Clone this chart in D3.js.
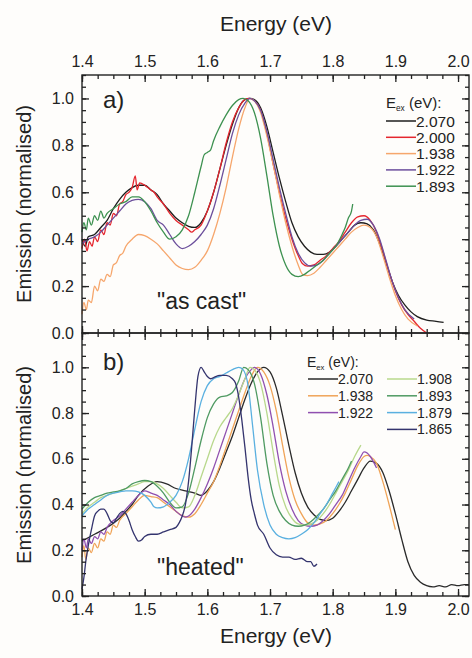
<!DOCTYPE html>
<html>
<head>
<meta charset="utf-8">
<script src="https://cdn.jsdelivr.net/npm/d3@7"></script>
<style>
body { margin: 0; background: #fefdfb; }
text { font-family: "Liberation Sans", Arial, sans-serif; fill: #222; }
</style>
</head>
<body>
<svg id="mainsvg" width="472" height="658"></svg>
<script>
// ---- data: [energy (eV), normalised emission] ----
// a) "as cast"
var cast2070 = [[1.400,0.40],[1.405,0.37],[1.41,0.41],[1.42,0.42],[1.43,0.45],[1.44,0.48],[1.45,0.53],[1.46,0.57],[1.47,0.60],[1.48,0.62],[1.49,0.63],[1.50,0.63],[1.51,0.61],[1.52,0.59],[1.53,0.55],[1.54,0.52],[1.55,0.49],[1.56,0.47],[1.57,0.455],[1.58,0.45],[1.59,0.47],[1.60,0.52],[1.61,0.60],[1.62,0.70],[1.63,0.80],[1.64,0.89],[1.65,0.96],[1.66,0.995],[1.668,1.0],[1.675,0.995],[1.685,0.96],[1.695,0.88],[1.705,0.77],[1.715,0.66],[1.725,0.56],[1.735,0.47],[1.745,0.41],[1.755,0.37],[1.765,0.345],[1.775,0.335],[1.785,0.335],[1.795,0.345],[1.805,0.37],[1.815,0.40],[1.825,0.43],[1.835,0.46],[1.845,0.47],[1.855,0.465],[1.865,0.44],[1.875,0.38],[1.885,0.30],[1.895,0.22],[1.905,0.16],[1.915,0.12],[1.925,0.09],[1.935,0.07],[1.95,0.055],[1.965,0.05],[1.977,0.045]];
var cast2000 = [[1.400,0.36],[1.404,0.40],[1.408,0.35],[1.412,0.39],[1.416,0.37],[1.42,0.41],[1.425,0.39],[1.43,0.44],[1.435,0.42],[1.44,0.47],[1.445,0.46],[1.45,0.51],[1.455,0.50],[1.46,0.55],[1.465,0.56],[1.47,0.59],[1.475,0.60],[1.48,0.62],[1.485,0.67],[1.488,0.61],[1.492,0.64],[1.50,0.63],[1.505,0.62],[1.51,0.61],[1.515,0.60],[1.52,0.58],[1.53,0.55],[1.54,0.51],[1.55,0.48],[1.56,0.46],[1.57,0.44],[1.575,0.43],[1.58,0.44],[1.59,0.46],[1.60,0.52],[1.61,0.60],[1.62,0.70],[1.63,0.81],[1.64,0.90],[1.65,0.96],[1.66,0.995],[1.667,1.0],[1.675,0.99],[1.685,0.95],[1.695,0.85],[1.705,0.72],[1.715,0.60],[1.725,0.49],[1.735,0.40],[1.745,0.33],[1.752,0.295],[1.76,0.285],[1.77,0.29],[1.78,0.31],[1.79,0.33],[1.80,0.36],[1.81,0.39],[1.82,0.43],[1.83,0.47],[1.84,0.495],[1.85,0.50],[1.86,0.48],[1.87,0.43],[1.88,0.35],[1.89,0.26],[1.90,0.18],[1.91,0.12],[1.92,0.08],[1.93,0.05],[1.94,0.02],[1.95,0.0]];
var cast1938 = [[1.400,0.08],[1.403,0.13],[1.407,0.10],[1.41,0.14],[1.415,0.13],[1.42,0.20],[1.425,0.18],[1.43,0.23],[1.435,0.22],[1.44,0.25],[1.445,0.24],[1.45,0.29],[1.455,0.30],[1.46,0.33],[1.465,0.34],[1.47,0.37],[1.48,0.40],[1.49,0.42],[1.50,0.415],[1.51,0.40],[1.52,0.38],[1.53,0.35],[1.54,0.32],[1.55,0.29],[1.56,0.275],[1.57,0.27],[1.58,0.28],[1.59,0.31],[1.60,0.35],[1.61,0.42],[1.62,0.51],[1.63,0.62],[1.64,0.75],[1.65,0.87],[1.66,0.96],[1.668,1.0],[1.675,0.99],[1.685,0.94],[1.695,0.84],[1.705,0.72],[1.715,0.59],[1.725,0.47],[1.735,0.37],[1.745,0.29],[1.752,0.25],[1.76,0.245],[1.77,0.255],[1.78,0.28],[1.79,0.31],[1.80,0.34],[1.81,0.37],[1.82,0.40],[1.83,0.43],[1.84,0.45],[1.85,0.46],[1.86,0.45],[1.87,0.41],[1.88,0.33],[1.89,0.24],[1.90,0.16],[1.91,0.10],[1.92,0.06],[1.935,0.03]];
var cast1922 = [[1.40,0.38],[1.41,0.40],[1.42,0.41],[1.43,0.43],[1.44,0.46],[1.45,0.49],[1.46,0.52],[1.47,0.55],[1.48,0.565],[1.49,0.57],[1.50,0.56],[1.51,0.53],[1.52,0.48],[1.53,0.46],[1.54,0.42],[1.55,0.38],[1.56,0.36],[1.57,0.37],[1.58,0.39],[1.59,0.42],[1.60,0.46],[1.61,0.53],[1.62,0.63],[1.63,0.74],[1.64,0.85],[1.65,0.93],[1.66,0.98],[1.668,1.0],[1.675,0.99],[1.685,0.95],[1.695,0.86],[1.705,0.74],[1.715,0.62],[1.725,0.51],[1.735,0.41],[1.745,0.34],[1.755,0.30],[1.765,0.285],[1.775,0.29],[1.785,0.31],[1.795,0.34],[1.805,0.37],[1.815,0.40],[1.825,0.43],[1.835,0.46],[1.845,0.48],[1.855,0.485],[1.865,0.46],[1.875,0.40],[1.885,0.31],[1.895,0.22],[1.905,0.15],[1.915,0.10],[1.93,0.06]];
var cast1893 = [[1.400,0.43],[1.403,0.47],[1.407,0.44],[1.41,0.49],[1.415,0.46],[1.42,0.50],[1.425,0.48],[1.43,0.52],[1.435,0.49],[1.44,0.51],[1.45,0.53],[1.46,0.55],[1.47,0.56],[1.48,0.58],[1.49,0.58],[1.50,0.56],[1.51,0.52],[1.52,0.47],[1.53,0.43],[1.54,0.40],[1.55,0.41],[1.56,0.44],[1.57,0.50],[1.58,0.60],[1.59,0.71],[1.595,0.76],[1.60,0.77],[1.605,0.78],[1.61,0.82],[1.62,0.88],[1.63,0.93],[1.64,0.97],[1.65,0.995],[1.657,1.0],[1.665,0.99],[1.675,0.94],[1.685,0.83],[1.695,0.67],[1.705,0.50],[1.715,0.37],[1.725,0.29],[1.735,0.25],[1.745,0.24],[1.755,0.25],[1.765,0.27],[1.775,0.29],[1.785,0.31],[1.795,0.34],[1.805,0.37],[1.815,0.42],[1.82,0.45],[1.825,0.49],[1.83,0.52],[1.832,0.55]];

// b) "heated"
var heat2070 = [[1.40,0.24],[1.42,0.27],[1.44,0.30],[1.46,0.34],[1.47,0.37],[1.48,0.40],[1.49,0.44],[1.505,0.48],[1.52,0.50],[1.535,0.49],[1.55,0.47],[1.565,0.46],[1.58,0.45],[1.59,0.44],[1.60,0.46],[1.61,0.50],[1.62,0.56],[1.63,0.63],[1.64,0.70],[1.65,0.78],[1.66,0.86],[1.67,0.93],[1.68,0.98],[1.69,1.0],[1.70,0.98],[1.71,0.91],[1.72,0.79],[1.73,0.66],[1.74,0.54],[1.75,0.45],[1.76,0.39],[1.77,0.355],[1.78,0.335],[1.79,0.33],[1.80,0.34],[1.81,0.37],[1.82,0.41],[1.83,0.46],[1.84,0.51],[1.85,0.56],[1.86,0.59],[1.87,0.58],[1.88,0.54],[1.89,0.46],[1.90,0.36],[1.91,0.25],[1.92,0.15],[1.93,0.09],[1.94,0.06],[1.95,0.045],[1.96,0.04],[1.97,0.045],[1.98,0.04],[1.99,0.05],[2.00,0.045],[2.01,0.05],[2.017,0.05]];
var heat1938 = [[1.400,0.17],[1.403,0.22],[1.406,0.16],[1.41,0.21],[1.415,0.19],[1.42,0.23],[1.425,0.21],[1.43,0.25],[1.435,0.24],[1.44,0.28],[1.445,0.27],[1.45,0.31],[1.455,0.30],[1.46,0.33],[1.47,0.36],[1.48,0.39],[1.49,0.42],[1.50,0.44],[1.51,0.435],[1.52,0.43],[1.53,0.41],[1.54,0.39],[1.55,0.37],[1.56,0.35],[1.57,0.345],[1.58,0.36],[1.59,0.40],[1.60,0.45],[1.61,0.50],[1.62,0.57],[1.63,0.65],[1.64,0.73],[1.65,0.81],[1.66,0.89],[1.67,0.96],[1.68,1.0],[1.69,0.98],[1.70,0.92],[1.71,0.81],[1.72,0.66],[1.73,0.52],[1.74,0.42],[1.75,0.36],[1.76,0.32],[1.77,0.31],[1.78,0.315],[1.79,0.33],[1.80,0.36],[1.81,0.40],[1.82,0.45],[1.83,0.51],[1.84,0.57],[1.85,0.61],[1.855,0.615],[1.86,0.61],[1.87,0.58],[1.88,0.50],[1.89,0.40],[1.90,0.29]];
var heat1922 = [[1.400,0.20],[1.403,0.25],[1.407,0.21],[1.41,0.25],[1.415,0.23],[1.42,0.26],[1.425,0.25],[1.43,0.28],[1.435,0.27],[1.44,0.30],[1.45,0.33],[1.46,0.35],[1.47,0.38],[1.48,0.41],[1.49,0.44],[1.50,0.46],[1.51,0.45],[1.52,0.44],[1.53,0.42],[1.54,0.40],[1.55,0.37],[1.56,0.35],[1.565,0.345],[1.57,0.35],[1.58,0.38],[1.59,0.43],[1.60,0.49],[1.61,0.56],[1.62,0.64],[1.63,0.72],[1.64,0.80],[1.65,0.88],[1.66,0.95],[1.67,0.99],[1.675,1.0],[1.685,0.97],[1.695,0.88],[1.705,0.74],[1.715,0.58],[1.725,0.46],[1.735,0.38],[1.745,0.33],[1.755,0.31],[1.765,0.305],[1.775,0.31],[1.785,0.33],[1.795,0.36],[1.805,0.40],[1.815,0.44],[1.825,0.50],[1.835,0.56],[1.845,0.61],[1.85,0.63],[1.855,0.625],[1.86,0.61],[1.87,0.56]];
var heat1908 = [[1.40,0.36],[1.41,0.39],[1.42,0.41],[1.43,0.43],[1.44,0.44],[1.45,0.45],[1.46,0.46],[1.47,0.47],[1.48,0.48],[1.49,0.49],[1.50,0.50],[1.51,0.50],[1.52,0.49],[1.53,0.47],[1.54,0.44],[1.55,0.41],[1.56,0.385],[1.57,0.39],[1.58,0.44],[1.59,0.52],[1.60,0.60],[1.61,0.68],[1.62,0.74],[1.63,0.78],[1.64,0.82],[1.65,0.88],[1.66,0.95],[1.668,1.0],[1.675,0.99],[1.685,0.93],[1.695,0.80],[1.705,0.63],[1.715,0.48],[1.725,0.39],[1.735,0.34],[1.745,0.315],[1.755,0.31],[1.765,0.315],[1.775,0.33],[1.785,0.36],[1.795,0.40],[1.805,0.45],[1.815,0.50],[1.825,0.55],[1.835,0.61],[1.845,0.66]];
var heat1893 = [[1.40,0.38],[1.41,0.41],[1.42,0.43],[1.43,0.44],[1.44,0.45],[1.45,0.455],[1.46,0.46],[1.47,0.47],[1.48,0.49],[1.49,0.50],[1.50,0.505],[1.51,0.50],[1.52,0.48],[1.53,0.45],[1.54,0.41],[1.55,0.385],[1.56,0.39],[1.57,0.45],[1.58,0.56],[1.59,0.68],[1.60,0.78],[1.61,0.84],[1.62,0.87],[1.63,0.875],[1.64,0.89],[1.65,0.94],[1.658,1.0],[1.665,0.99],[1.675,0.93],[1.685,0.78],[1.695,0.58],[1.705,0.44],[1.715,0.37],[1.725,0.33],[1.735,0.31],[1.745,0.305],[1.755,0.31],[1.765,0.325],[1.775,0.35],[1.785,0.38],[1.795,0.42],[1.805,0.46],[1.815,0.51],[1.825,0.56],[1.83,0.59]];
var heat1879 = [[1.40,0.35],[1.41,0.38],[1.42,0.40],[1.43,0.42],[1.44,0.44],[1.45,0.45],[1.46,0.455],[1.47,0.46],[1.48,0.46],[1.49,0.455],[1.50,0.44],[1.51,0.41],[1.515,0.39],[1.52,0.385],[1.53,0.39],[1.54,0.41],[1.55,0.44],[1.56,0.50],[1.57,0.60],[1.58,0.73],[1.59,0.85],[1.60,0.92],[1.61,0.95],[1.62,0.96],[1.63,0.975],[1.64,0.99],[1.65,1.0],[1.657,0.99],[1.665,0.92],[1.672,0.75],[1.68,0.55],[1.69,0.40],[1.70,0.31],[1.71,0.27],[1.72,0.255],[1.73,0.25],[1.74,0.255],[1.75,0.27],[1.76,0.29],[1.77,0.32],[1.78,0.36],[1.79,0.40],[1.80,0.45],[1.81,0.50]];
var heat1865 = [[1.400,0.03],[1.403,0.08],[1.406,0.15],[1.41,0.22],[1.415,0.29],[1.42,0.35],[1.425,0.37],[1.43,0.38],[1.435,0.38],[1.44,0.36],[1.445,0.33],[1.45,0.32],[1.455,0.34],[1.46,0.36],[1.465,0.37],[1.47,0.36],[1.475,0.33],[1.48,0.29],[1.485,0.26],[1.49,0.24],[1.495,0.245],[1.50,0.26],[1.51,0.27],[1.52,0.27],[1.53,0.28],[1.54,0.29],[1.55,0.30],[1.555,0.32],[1.56,0.35],[1.565,0.40],[1.57,0.50],[1.575,0.65],[1.58,0.82],[1.585,0.96],[1.59,1.0],[1.595,0.98],[1.60,0.96],[1.605,0.95],[1.61,0.955],[1.62,0.965],[1.63,0.965],[1.64,0.95],[1.645,0.93],[1.65,0.87],[1.655,0.77],[1.66,0.65],[1.665,0.52],[1.67,0.42],[1.675,0.36],[1.68,0.31],[1.69,0.27],[1.70,0.21],[1.71,0.18],[1.72,0.17],[1.73,0.17],[1.74,0.16],[1.75,0.165],[1.76,0.15],[1.765,0.15],[1.77,0.13],[1.775,0.14]];

var castLabels = ["2.070", "2.000", "1.938", "1.922", "1.893"];
var castColors = ["#1e1e1e", "#e5262e", "#f6a66c", "#6c4f9c", "#3d9150"];
var castData = [cast2070, cast2000, cast1938, cast1922, cast1893];

var heatLabels = ["2.070", "1.938", "1.922", "1.908", "1.893", "1.879", "1.865"];
var heatColors = ["#2a2a2a", "#f0a458", "#9050b0", "#b8d88c", "#4f9a62", "#5ab0e0", "#34346e"];
var heatData = [heat2070, heat1938, heat1922, heat1908, heat1893, heat1879, heat1865];

var xTicks = [1.4, 1.5, 1.6, 1.7, 1.8, 1.9, 2.0];
var yTicks = [0.0, 0.2, 0.4, 0.6, 0.8, 1.0];

// ---- layout ----
var left = 82, right = 469;
var svg = d3.select("#mainsvg");

var x = d3.scaleLinear().domain([1.4, 2.0175]).range([left, right]);
var xMinor = d3.range(1.4, 2.0176, 0.025).map(function(d) { return +d.toFixed(3); });
var yMinorA = d3.range(0, 1.101, 0.05).map(function(d) { return +d.toFixed(2); });
var yMinorB = d3.range(0, 1.151, 0.05).map(function(d) { return +d.toFixed(2); });

var yA = d3.scaleLinear().domain([0, 1.1]).range([333, 75]);
var yB = d3.scaleLinear().domain([0, 1.15]).range([596, 333]);

function drawPanel(y, top, bottom, series, colors, yMinor, showTop, showBottom) {
	var g = svg.append("g");
	var line = d3.line()
		.x(function(d) { return x(d[0]); })
		.y(function(d) { return y(d[1]); })
		.curve(d3.curveMonotoneX);

	g.append("g").selectAll("path")
		.data(series)
		.enter().append("path")
		.attr("d", line)
		.attr("fill", "none")
		.attr("stroke", function(d, i) { return colors[i]; })
		.attr("stroke-width", 1.3);

	// ticks point inwards on all four sides
	var axes = [
		{ ax: d3.axisBottom(x).tickValues(xTicks).tickSize(-7), tr: [0, bottom], lab: showBottom },
		{ ax: d3.axisBottom(x).tickValues(xMinor).tickSize(-4), tr: [0, bottom], lab: false },
		{ ax: d3.axisTop(x).tickValues(xTicks).tickSize(-7), tr: [0, top], lab: showTop },
		{ ax: d3.axisTop(x).tickValues(xMinor).tickSize(-4), tr: [0, top], lab: false },
		{ ax: d3.axisLeft(y).tickValues(yTicks).tickSize(-7), tr: [left, 0], lab: true },
		{ ax: d3.axisLeft(y).tickValues(yMinor).tickSize(-4), tr: [left, 0], lab: false },
		{ ax: d3.axisRight(y).tickValues(yTicks).tickSize(-7), tr: [right, 0], lab: false },
		{ ax: d3.axisRight(y).tickValues(yMinor).tickSize(-4), tr: [right, 0], lab: false }
	];
	axes.forEach(function(a) {
		a.ax.tickPadding(8).tickFormat(a.lab ? d3.format(".1f") : "");
		var ag = g.append("g").attr("transform", "translate(" + a.tr + ")").call(a.ax);
		ag.select(".domain").remove();
		ag.selectAll(".tick line").attr("stroke", "#222").attr("stroke-width", 1.3);
		ag.selectAll("text").style("font-size", "16px").attr("fill", "#222")
			.style("font-family", "'Liberation Sans', Arial, sans-serif");
	});

	g.append("rect")
		.attr("x", left).attr("y", top)
		.attr("width", right - left).attr("height", bottom - top)
		.attr("fill", "none").attr("stroke", "#222").attr("stroke-width", 1.4);
	return g;
}

var ga = drawPanel(yA, 75, 333, castData, castColors, yMinorA, true, false);
var gb = drawPanel(yB, 333, 596, heatData, heatColors, yMinorB, false, true);

// axis titles
svg.append("text").attr("x", 276).attr("y", 31).attr("text-anchor", "middle")
	.style("font-size", "21px").text("Energy (eV)");
svg.append("text").attr("x", 276).attr("y", 643).attr("text-anchor", "middle")
	.style("font-size", "21px").text("Energy (eV)");
[[204], [465]].forEach(function(c) {
	svg.append("text")
		.attr("transform", "translate(31," + c[0] + ") rotate(-90)")
		.attr("text-anchor", "middle")
		.style("font-size", "20px").text("Emission (normalised)");
});

// panel annotations
svg.append("text").attr("x", 103).attr("y", 108).style("font-size", "24px").text("a)");
svg.append("text").attr("x", 103).attr("y", 370).style("font-size", "24px").text("b)");
svg.append("text").attr("x", 157).attr("y", 309).style("font-size", "23px").text("\"as cast\"");
svg.append("text").attr("x", 157).attr("y", 575).style("font-size", "23px").text("\"heated\"");

function legendTitle(xp, yp, size) {
	var t = svg.append("text").attr("x", xp).attr("y", yp).style("font-size", size + "px");
	t.append("tspan").text("E");
	t.append("tspan").attr("dy", 3).style("font-size", (size * 0.55) + "px").text("ex");
	t.append("tspan").attr("dy", -3).text(" (eV):");
}

function legendItem(xp, yp, color, label, size) {
	svg.append("line").attr("x1", xp).attr("x2", xp + 30)
		.attr("y1", yp).attr("y2", yp)
		.attr("stroke", color).attr("stroke-width", 1.5);
	svg.append("text").attr("x", xp + 30).attr("y", yp + size * 0.36)
		.style("font-size", size + "px").text(label);
}

legendTitle(386, 108, 15);
castLabels.forEach(function(l, i) {
	legendItem(386, 121 + i * 16.3, castColors[i], l, 15.5);
});

legendTitle(307, 367, 14);
heatLabels.forEach(function(l, i) {
	var col = i < 3 ? 0 : 1;
	var row = i < 3 ? i : i - 3;
	legendItem(col ? 387 : 308, 379 + row * 16.8, heatColors[i], l, 14);
});
</script>
</body>
</html>
